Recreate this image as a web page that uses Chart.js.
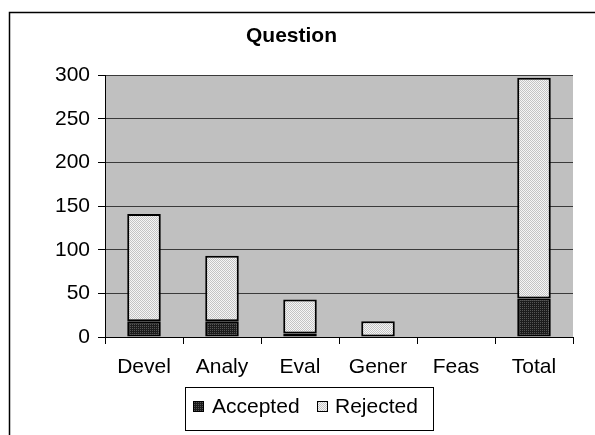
<!DOCTYPE html>
<html>
<head>
<meta charset="utf-8">
<script src="https://cdn.jsdelivr.net/npm/chart.js@4"></script>
<style>
html,body{margin:0;padding:0;background:#fff;}
#wrap{width:595px;height:435px;position:relative;}
</style>
</head>
<body>
<div id="wrap"><canvas id="c" width="595" height="435"></canvas></div>
<script>
const categories = ['Devel', 'Analy', 'Eval', 'Gener', 'Feas', 'Total'];
const accepted = [18, 18, 4, 0, 0, 44];
const rejected = [123, 75, 39, 18, 0, 253];
const yTicks = [0, 50, 100, 150, 200, 250, 300];
const seriesNames = ['Accepted', 'Rejected'];
const chartTitle = 'Question';

function makePattern(base, dot, size, dots) {
  const c = document.createElement('canvas');
  c.width = size; c.height = size;
  const x = c.getContext('2d');
  x.fillStyle = base; x.fillRect(0, 0, size, size);
  x.fillStyle = dot;
  dots.forEach(p => x.fillRect(p[0], p[1], 1, 1));
  return x.createPattern(c, 'repeat');
}
const ctx0 = document.getElementById('c').getContext('2d');
const darkPat = makePattern('#1c1c1c', '#555555', 2, [[0,0]]);
const lightPat = makePattern('#f6f6f6', '#c4c4c4', 2, [[0,0],[1,1]]);

const FONT = "'Liberation Sans', Arial, sans-serif";
Chart.defaults.color = '#000';
Chart.defaults.font.family = FONT;

const decor = {
  id: 'decor',
  beforeDraw(chart) {
    const c = chart.ctx, a = chart.chartArea;
    c.save();
    c.fillStyle = '#fff';
    c.fillRect(0, 0, chart.width, chart.height);
    c.fillStyle = '#c0c0c0';
    c.fillRect(a.left, a.top, a.right - a.left, a.bottom - a.top);
    c.strokeStyle = '#000';
    c.lineWidth = 1.5;
    c.strokeRect(9.5, 12.5, 620, 460);
    c.restore();
  },
  afterDraw(chart) {
    const c = chart.ctx;
    c.save();
    c.strokeStyle = '#000';
    c.lineWidth = 1;
    c.strokeRect(185.5, 387.5, 248, 43);
    const items = [
      {ds: chart.data.datasets[0], bx: 193, tx: 212},
      {ds: chart.data.datasets[1], bx: 317, tx: 335}
    ];
    c.font = '21px ' + FONT;
    c.textBaseline = 'middle';
    c.textAlign = 'left';
    items.forEach(it => {
      c.fillStyle = it.ds.backgroundColor;
      c.fillRect(it.bx, 401, 10, 10);
      c.strokeStyle = '#000';
      c.strokeRect(it.bx + 0.5, 401.5, 10, 10);
      c.fillStyle = '#000';
      c.fillText(it.ds.label, it.tx, 407);
    });
    c.restore();
  }
};

new Chart(ctx0, {
  type: 'bar',
  data: {
    labels: categories,
    datasets: [
      {label: seriesNames[0], data: accepted, backgroundColor: darkPat, borderColor: '#000', borderWidth: 2, borderSkipped: false, barPercentage: 0.43, categoryPercentage: 1},
      {label: seriesNames[1], data: rejected, backgroundColor: lightPat, borderColor: '#000', borderWidth: 2, borderSkipped: false, barPercentage: 0.43, categoryPercentage: 1}
    ]
  },
  options: {
    responsive: false,
    devicePixelRatio: 1,
    animation: false,
    layout: {padding: {left: 10, right: 22, top: 0, bottom: 0}},
    plugins: {
      legend: {display: false},
      tooltip: {enabled: false},
      title: {display: true, text: chartTitle, color: '#000', font: {family: FONT, size: 21, weight: 'bold'}, padding: {top: 24, bottom: 26}}
    },
    scales: {
      x: {
        stacked: true,
        offset: true,
        grid: {display: true, drawOnChartArea: false, offset: true, tickLength: 7, color: '#000', lineWidth: 1},
        border: {display: true, color: '#000', width: 1},
        ticks: {font: {family: FONT, size: 21}, color: '#000', padding: 11, maxRotation: 0},
        afterFit(s) { s.height = 98; }
      },
      y: {
        stacked: true,
        min: 0, max: 300,
        afterBuildTicks(s) { s.ticks = yTicks.map(v => ({value: v})); },
        grid: {color: '#3a3a3a', lineWidth: 1, tickLength: 7, tickColor: '#000'},
        border: {display: true, color: '#000', width: 1},
        ticks: {font: {family: FONT, size: 21}, color: '#000', padding: 8},
        afterFit(s) { s.width = 95; }
      }
    }
  },
  plugins: [decor]
});
</script>
</body>
</html>
